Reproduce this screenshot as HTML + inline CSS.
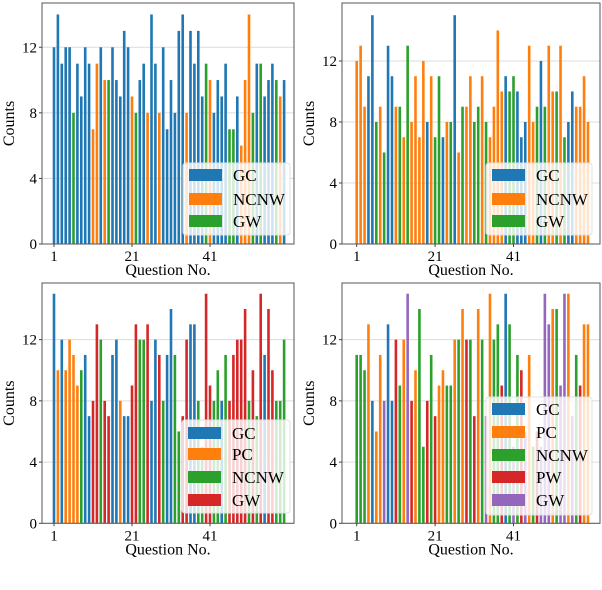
<!DOCTYPE html>
<html><head><meta charset="utf-8">
<style>
html,body{margin:0;padding:0;background:#fff;}
svg{display:block;font-family:"Liberation Serif",serif;}
</style></head>
<body>
<svg id="chart" width="602" height="590" viewBox="0 0 602 590" xmlns="http://www.w3.org/2000/svg"></svg>
<script>
// ---- data ----
const questions = Array.from({length:60},(_,i)=>i+1);
const p1Labels = ["GC","NCNW","GW"];
const p1Values = [12,14,11,12,12,8,11,9,12,11,7,11,12,10,10,12,10,9,13,12,9,8,10,11,8,14,11,8,12,7,10,8,13,14,8,13,11,13,9,11,10,8,10,9,11,7,7,9,6,10,14,8,11,11,9,10,11,10,9,10];
const p1Cats = [0,0,0,0,0,2,0,0,0,0,1,1,0,1,2,0,0,0,0,0,1,2,0,0,1,0,0,1,0,0,0,0,0,0,1,0,0,0,0,2,1,0,0,0,0,2,2,0,1,1,1,2,0,2,0,0,0,2,1,0];
const p2Labels = ["GC","NCNW","GW"];
const p2Values = [12,13,9,11,15,8,9,6,13,11,9,9,7,13,8,11,7,12,8,11,7,11,7,8,8,15,6,9,9,11,8,9,11,8,7,9,14,10,11,10,11,10,7,8,13,8,9,12,9,13,10,10,13,7,8,10,9,9,11,8];
const p2Cats = [1,1,1,0,0,2,1,2,0,0,1,2,1,2,1,1,1,1,0,1,2,2,0,1,2,0,1,2,1,1,2,2,1,2,1,1,1,1,0,2,2,0,0,0,1,1,2,0,2,1,1,2,1,2,0,0,1,1,1,1];
const p3Labels = ["GC","PC","NCNW","GW"];
const p3Values = [15,10,12,10,12,11,9,10,11,7,8,13,12,8,7,11,12,8,7,7,9,13,12,12,13,8,12,11,8,11,14,11,6,7,12,13,13,8,5,15,9,8,10,8,11,8,11,12,12,14,8,10,7,15,11,14,10,8,8,12];
const p3Cats = [0,1,0,1,1,1,1,2,0,0,3,3,2,3,3,0,0,1,0,0,3,3,2,2,3,0,0,3,2,0,0,2,2,3,3,0,0,2,2,3,3,2,2,0,2,3,3,3,3,3,2,3,2,3,0,3,3,2,2,2];
const p4Labels = ["GC","PC","NCNW","PW","GW"];
const p4Values = [11,11,10,13,8,6,11,8,13,8,12,9,12,15,8,10,14,5,8,11,7,9,10,9,9,12,12,14,12,12,7,14,12,7,15,12,13,9,15,13,5,11,10,6,11,5,6,5,15,13,14,14,9,15,15,7,11,9,13,13];
const p4Cats = [2,2,2,1,0,1,1,4,0,0,3,2,1,4,3,1,2,2,3,2,3,1,1,2,2,1,2,1,3,2,3,1,2,4,1,2,2,3,0,2,4,2,3,4,1,2,3,4,4,4,1,2,4,4,1,4,2,3,1,1];
const yTicks = [0,4,8,12];
const xTicks = [1,21,41];

const COLORS = ["#1f77b4","#ff7f0e","#2ca02c","#d62728","#9467bd"];
const NS = "http://www.w3.org/2000/svg";
const svg = document.getElementById("chart");
function mk(tag, attrs, parent){
  const e = document.createElementNS(NS, tag);
  for (const k in attrs) e.setAttribute(k, attrs[k]);
  (parent||svg).appendChild(e);
  return e;
}

const panels = [
  {id:"top-left", L:42, R:294, T:3, B:244, x1:54, step:3.9, ymax:14.7, vals:p1Values, cats:p1Cats, labels:p1Labels,
   leg:{x:183,y:163,w:107,h:72,rows:[175,199,221]}},
  {id:"top-right", L:342, R:600, T:3, B:244, x1:356.7, step:3.92, ymax:15.8, vals:p2Values, cats:p2Cats, labels:p2Labels,
   leg:{x:486,y:163,w:106,h:72,rows:[175,199,221]}},
  {id:"bottom-left", L:42, R:294, T:283, B:523.3, x1:54, step:3.9, ymax:15.7, vals:p3Values, cats:p3Cats, labels:p3Labels,
   leg:{x:182,y:420,w:108,h:93,rows:[433,454,477,500]}},
  {id:"bottom-right", L:342, R:600, T:283, B:523.3, x1:356.7, step:3.92, ymax:15.7, vals:p4Values, cats:p4Cats, labels:p4Labels,
   leg:{x:486,y:397,w:106,h:118,rows:[409,432,455,477,500]}}
];

panels.forEach(p=>{
  const g = mk("g",{});
  
  
  const xs = q => p.x1 + (q-1)*p.step;
  const ys = v => p.B - v*(p.B-p.T)/p.ymax;
  // grid + y ticks
  yTicks.forEach(t=>{
    const y = ys(t);
    const gl = mk("line",{x1:p.L,x2:p.R,y1:y,y2:y,stroke:"#dcdcdc","stroke-width":1},g);
    
    
    mk("line",{x1:p.L-3,x2:p.L,y1:y,y2:y,stroke:"#444","stroke-width":1},g);
    const tl = mk("text",{x:p.L-5,y:y+5,"text-anchor":"end","font-size":15,fill:"#000"},g);
    tl.textContent = t;
    
    
  });
  // bars
  questions.forEach((q,i)=>{
    const v = p.vals[i];
    const r = mk("rect",{x:xs(q)-1.3,y:ys(v),width:2.6,height:p.B-ys(v),fill:COLORS[p.cats[i]]},g);
    
    
  });
  // spines
  const fr = mk("rect",{x:p.L,y:p.T,width:p.R-p.L,height:p.B-p.T,fill:"none",stroke:"#555","stroke-width":1},g);
  
  
  // x ticks
  xTicks.forEach(t=>{
    const x = xs(t);
    mk("line",{x1:x,x2:x,y1:p.B,y2:p.B+3,stroke:"#444","stroke-width":1},g);
    const tl = mk("text",{x:x,y:p.B+17,"text-anchor":"middle","font-size":15,fill:"#000"},g);
    tl.textContent = t;
    
    
  });
  // axis titles
  const xt = mk("text",{x:(p.L+p.R)/2,y:p.B+31,"text-anchor":"middle","font-size":16,fill:"#000"},g);
  xt.textContent = "Question No.";
  
  
  const cy = (p.T+p.B)/2, cx = p.L-28;
  const yt = mk("text",{x:cx,y:cy,"text-anchor":"middle","font-size":16,fill:"#000",transform:`rotate(-90 ${cx} ${cy})`},g);
  yt.textContent = "Counts";
  
  
  // legend
  const lg = mk("g",{},g);
  
  
  mk("rect",{x:p.leg.x,y:p.leg.y,width:p.leg.w,height:p.leg.h,rx:3,fill:"#fff","fill-opacity":0.8,stroke:"#e0e0e0","stroke-width":1},lg);
  p.labels.forEach((lab,k)=>{
    const cyr = p.leg.rows[k];
    const e = mk("g",{},lg);
    
    
    mk("rect",{x:p.leg.x+6,y:cyr-6,width:33,height:12,fill:COLORS[k]},e);
    const t = mk("text",{x:p.leg.x+50,y:cyr+6,"font-size":17,fill:"#000"},e);
    t.textContent = lab;
  });
});
</script>
</body></html>
